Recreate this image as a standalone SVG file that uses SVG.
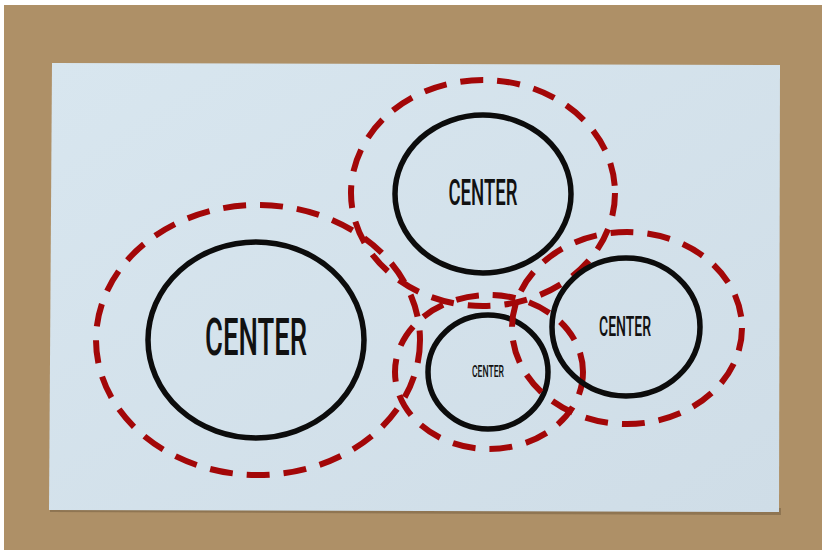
<svg xmlns="http://www.w3.org/2000/svg" width="822" height="550" viewBox="0 0 822 550">
  <defs>
    <style>
      .ring { fill: none; stroke: #0c0c0c; stroke-width: 5.5; }
      .dash { fill: none; stroke: #a30708; stroke-width: 6; stroke-dasharray: 23 14; }
      .label { font-family: Roboto, "Liberation Sans", sans-serif; font-weight: 500; fill: #111111; text-anchor: middle; }
    </style>
    <linearGradient id="paper" x1="0" y1="0" x2="1" y2="1">
      <stop offset="0" stop-color="#d8e6ef"/>
      <stop offset="1" stop-color="#cfdde7"/>
    </linearGradient>
  </defs>
  <rect x="0" y="0" width="822" height="550" fill="#ffffff"/>
  <rect x="4" y="5" width="818" height="545" fill="#ae9067"/>
  <polygon points="50,512 781,515 781,508 50,505" fill="#6f5a3e" opacity="0.5"/>
  <polygon points="52,63 780,65 779,512 49,510" fill="url(#paper)"/>

  <g id="connectors"></g>

  <g id="node-left">
    <ellipse class="dash" cx="258" cy="340" rx="162" ry="135"/>
    <ellipse class="ring" cx="256" cy="340" rx="108" ry="98"/>
    <text class="label" x="256" y="355" font-size="52" textLength="102" lengthAdjust="spacingAndGlyphs">CENTER</text>
  </g>
  <g id="node-top">
    <ellipse class="dash" cx="483" cy="193" rx="132" ry="113"/>
    <ellipse class="ring" cx="483" cy="194" rx="88" ry="79"/>
    <text class="label" x="483" y="205" font-size="36" textLength="69" lengthAdjust="spacingAndGlyphs">CENTER</text>
  </g>
  <g id="node-small">
    <ellipse class="dash" cx="489" cy="372" rx="94" ry="77"/>
    <ellipse class="ring" cx="488" cy="372" rx="60" ry="57"/>
    <text class="label" x="488" y="377" font-size="16" textLength="32" lengthAdjust="spacingAndGlyphs">CENTER</text>
  </g>
  <g id="node-right">
    <ellipse class="dash" cx="627" cy="328" rx="115" ry="96"/>
    <ellipse class="ring" cx="626" cy="327" rx="74" ry="69"/>
    <text class="label" x="625" y="336" font-size="27" textLength="52" lengthAdjust="spacingAndGlyphs">CENTER</text>
  </g>
</svg>
